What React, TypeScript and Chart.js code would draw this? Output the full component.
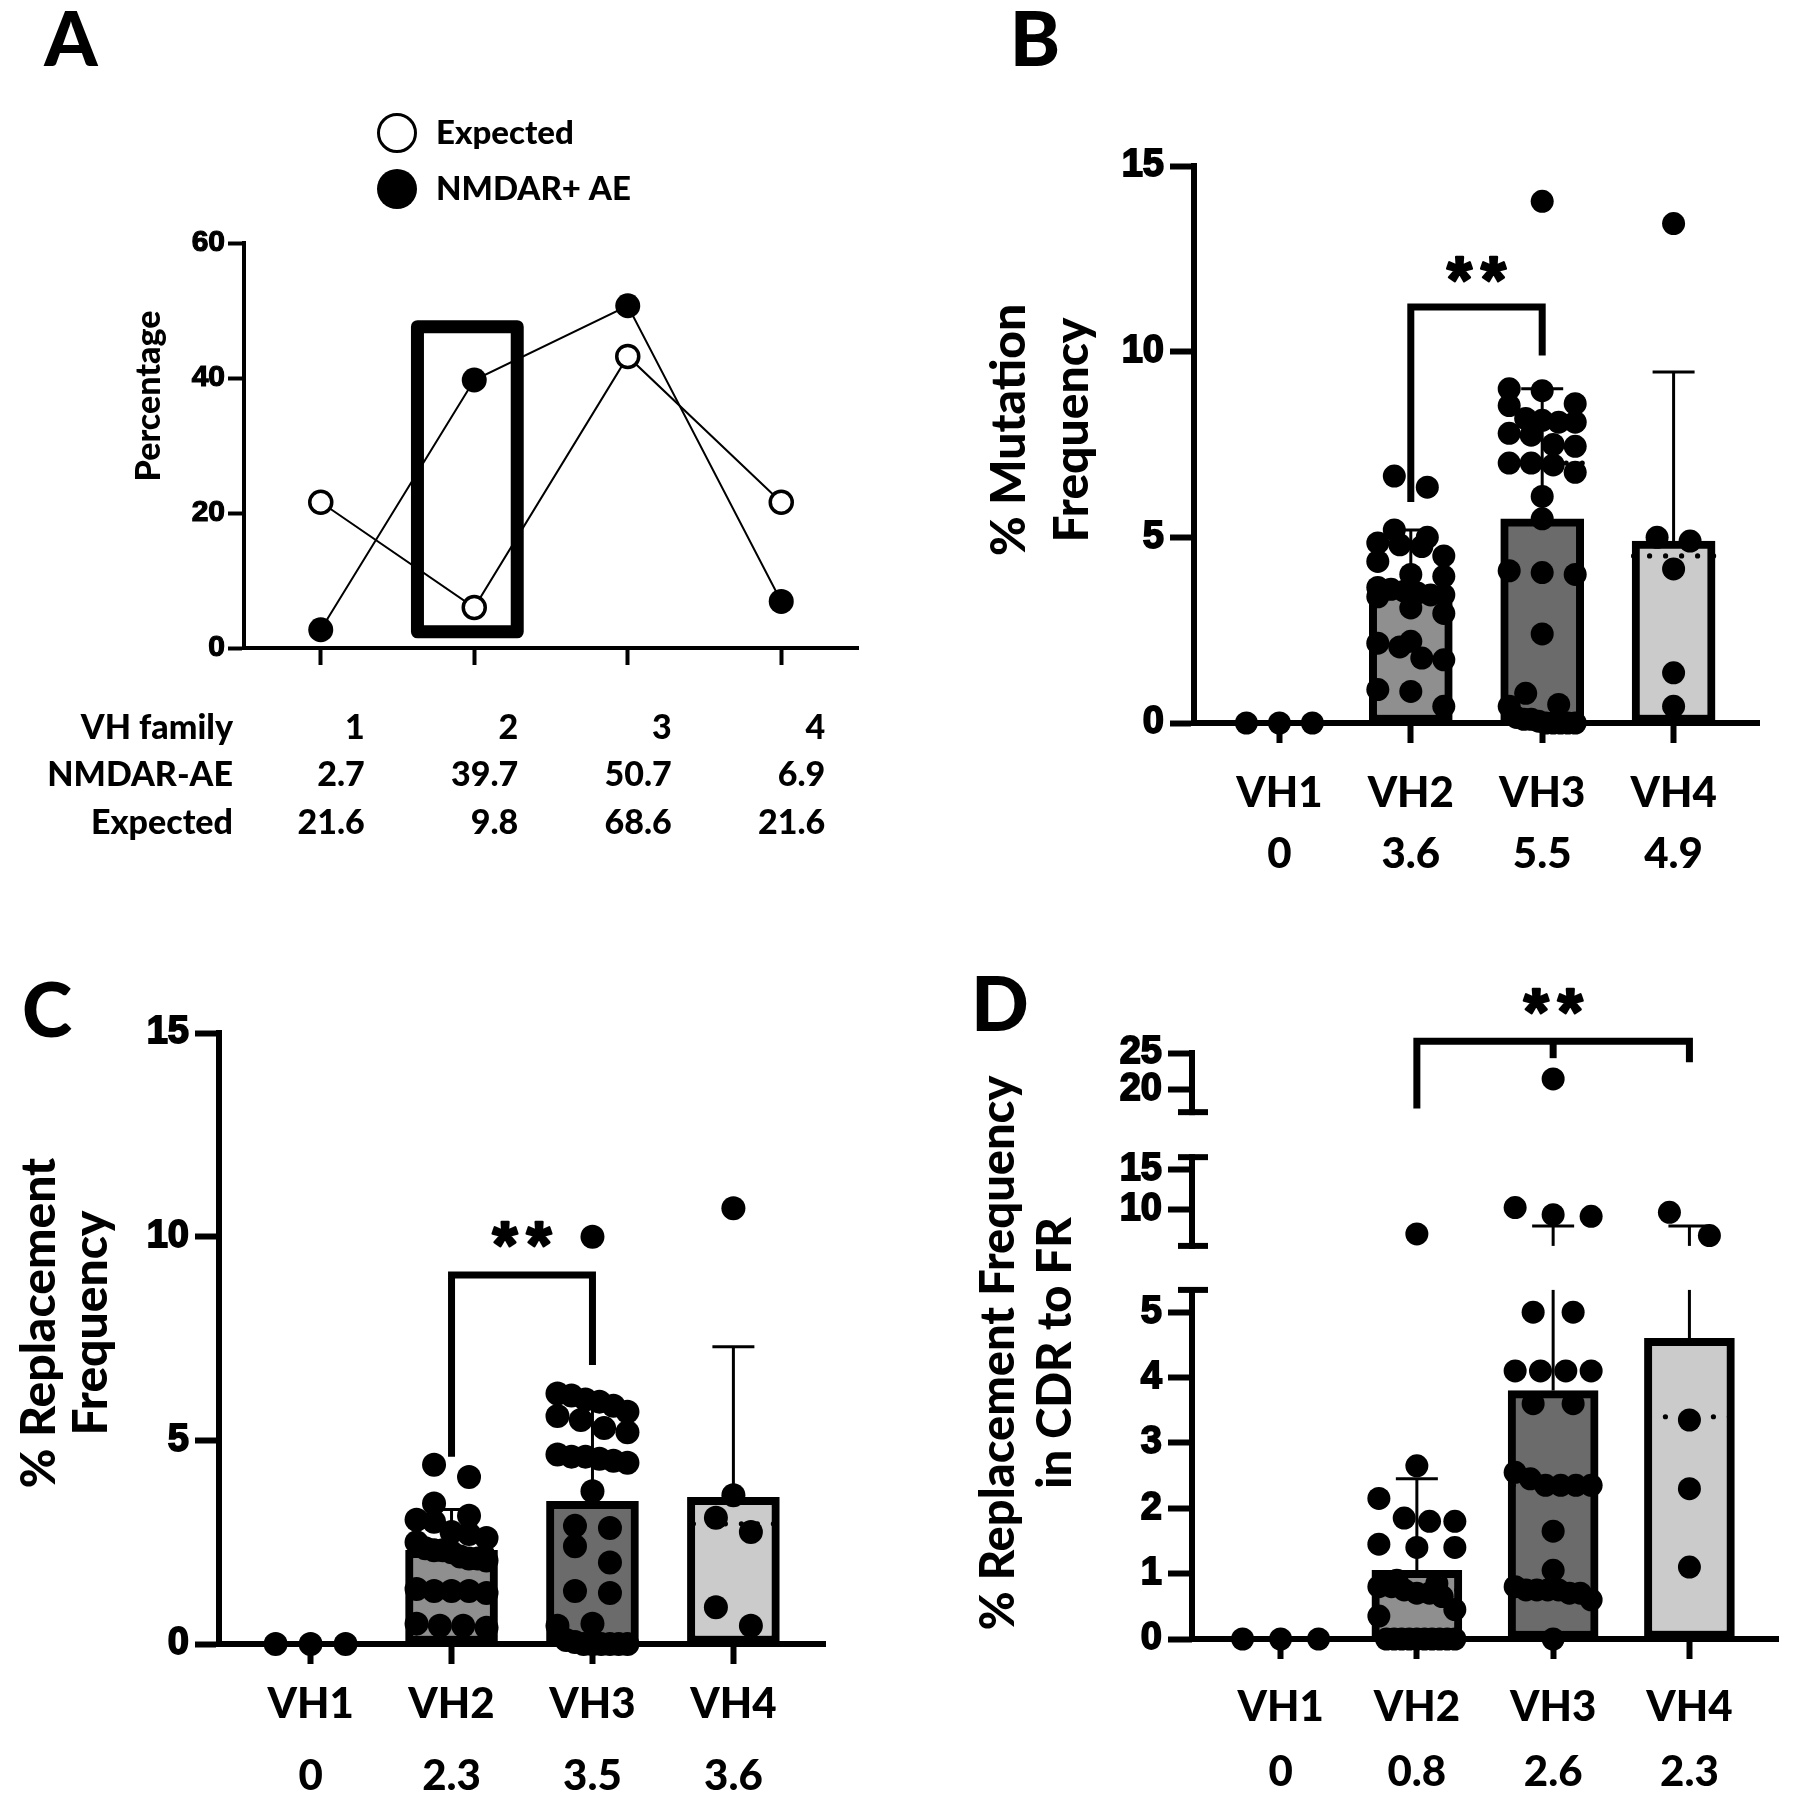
import React, { useEffect, useRef } from 'react';
import { Chart, registerables } from 'chart.js';

Chart.register(...registerables);

const TEXT_FONT = 'Lato, "Open Sans", sans-serif';
const NUM_FONT = '"Liberation Sans", Arial, sans-serif';
const TW = '900';

// ---------------- Panel A data ----------------
const A_FAMILIES = [1, 2, 3, 4];
const A_NMDAR_POINTS = [2.7, 39.7, 50.7, 6.9];
const A_EXPECTED_POINTS = [21.6, 6.0, 43.2, 21.6];
const A_Y_TICKS = [0, 20, 40, 60];
const A_LEGEND = ['Expected', 'NMDAR+ AE'];
const A_ROW_NAMES = ['VH family', 'NMDAR-AE', 'Expected'];
const A_ROW_FAMILY = ['1', '2', '3', '4'];
const A_ROW_NMDAR = ['2.7', '39.7', '50.7', '6.9'];
const A_ROW_EXPECTED = ['21.6', '9.8', '68.6', '21.6'];
const A_HIGHLIGHT = { x0: 1.63, x1: 2.28, y0: 2.4, y1: 47.6 };

// ---------------- Shared ----------------
const GROUPS = ['VH1', 'VH2', 'VH3', 'VH4'];
const BAR_FILLS = ['#ffffff', '#8f8f8f', '#6b6b6b', '#cbcbcb'];

// ---------------- Panel B data ----------------
const B_LABELS = ['0', '3.6', '5.5', '4.9'];
const B_MEANS = [0, 3.6, 5.5, 4.9];
const B_SD_TOP = [0, 5.2, 9.0, 9.45];
const B_MEDIANS = [0, 3.5, 7.0, 4.5];
const B_VH1 = [0, 0, 0];
const B_VH2 = [6.65, 6.35, 5.2, 5.0, 4.85, 4.8, 4.75, 4.5, 4.35, 4.0, 3.95, 3.65, 3.6, 3.55, 3.5, 3.45, 3.45, 3.4, 3.1, 2.95, 2.2, 2.15, 2.05, 1.75, 1.7, 0.9, 0.85, 0.45];
const B_VH3 = [14.05, 9.0, 8.95, 8.6, 8.55, 8.2, 8.15, 8.1, 8.1, 7.8, 7.75, 7.5, 7.45, 7.0, 7.0, 6.95, 6.75, 6.1, 5.5, 4.1, 4.05, 4.0, 2.4, 0.8, 0.5, 0.45, 0.15, 0.1, 0.1, 0.05, 0, 0, 0, 0, 0];
const B_VH4 = [13.45, 5.0, 4.9, 4.15, 1.35, 0.45];
const B_Y_TICKS = [0, 5, 10, 15];
const B_SIG = { from: 1, to: 2, top: 11.2, legFrom: 5.95, legTo: 9.9, stars: 12.2 };

// ---------------- Panel C data ----------------
const C_LABELS = ['0', '2.3', '3.5', '3.6'];
const C_MEANS = [0, 2.3, 3.5, 3.6];
const C_SD_TOP = [0, 3.3, 6.0, 7.3];
const C_MEDIANS = [0, 2.3, 4.55, 2.95];
const C_VH1 = [0, 0, 0];
const C_VH2 = [4.4, 4.1, 3.45, 3.15, 3.05, 3.0, 2.75, 2.7, 2.6, 2.5, 2.35, 2.3, 2.3, 2.25, 2.15, 2.1, 2.1, 2.05, 1.35, 1.3, 1.3, 1.3, 1.25, 0.5, 0.45, 0.45, 0.4];
const C_VH3 = [10.0, 6.15, 6.1, 6.0, 5.95, 5.85, 5.7, 5.6, 5.5, 5.3, 5.2, 4.65, 4.6, 4.6, 4.55, 4.5, 4.45, 3.75, 2.9, 2.85, 2.4, 2.0, 1.3, 1.25, 0.5, 0.45, 0.1, 0.05, 0, 0, 0, 0, 0, 0];
const C_VH4 = [10.7, 3.65, 3.1, 2.75, 0.9, 0.45];
const C_Y_TICKS = [0, 5, 10, 15];
const C_SIG = { from: 1, to: 2, top: 9.06, legFrom: 4.6, legTo: 6.85, stars: 10.05 };

// ---------------- Panel D data ----------------
const D_LABELS = ['0', '0.8', '2.6', '2.3'];
const D_MEANS = [0, 1.05, 3.8, 4.6];
const D_SD_TOP = [0, 2.45, 8.0, 8.0];
const D_MEDIANS = [0, 0.75, 2.35, 3.4];
const D_VH1 = [0, 0, 0];
const D_VH2 = [7.0, 2.65, 2.15, 1.85, 1.8, 1.8, 1.45, 1.4, 1.4, 0.9, 0.85, 0.8, 0.8, 0.75, 0.7, 0.7, 0.65, 0.45, 0.35, 0, 0, 0, 0, 0, 0, 0, 0, 0, 0];
const D_VH3 = [21.5, 10.3, 9.4, 9.2, 5.0, 5.0, 4.1, 4.1, 4.1, 4.1, 3.6, 3.6, 2.55, 2.45, 2.35, 2.35, 2.35, 2.35, 1.65, 1.05, 0.8, 0.75, 0.75, 0.75, 0.75, 0.7, 0.7, 0.6, 0];
const D_VH4 = [9.7, 6.8, 3.35, 2.3, 1.1];
const D_Y_TICKS = [0, 1, 2, 3, 4, 5, 10, 15, 20, 25];
const D_SIG = { from: 1, mid: 2, to: 3, top: 26.6, legFrom: 17.5, legMid: 24.3, legTo: 23.75, stars: 31.9 };
// broken-axis segments (real value range -> virtual axis units)
const D_SEGMENTS = [
  { lo: 0, hi: 5.34, v0: 0, k: 1, capLo: false, capHi: true },
  { lo: 5.5, hi: 16.6, v0: 6.013, k: 0.1223, capLo: true, capHi: true },
  { lo: 17, hi: 25, v0: 8.059, k: 0.1131, capLo: true, capHi: false },
];

function dMap(v: number) {
  for (let i = 0; i < D_SEGMENTS.length; i++) {
    const s = D_SEGMENTS[i];
    if (v <= s.hi || i === D_SEGMENTS.length - 1) {
      const vv = Math.max(v, s.lo);
      return s.v0 + (vv - s.lo) * s.k;
    }
  }
  return v;
}
const ident = (v: number) => v;

// Prism-like row scatter layout computed from the values
function swarm(vals: number[], center: number, p: any) {
  const sorted = vals.map((v) => ({ v, py: p.ymap(v) * p.pxPerUnit })).sort((a, b) => a.py - b.py);
  const rows: any[] = [];
  let cur: any[] = [];
  for (const s of sorted) {
    if (cur.length && s.py - cur[0].py >= p.rowPx) {
      rows.push(cur);
      cur = [];
    }
    cur.push(s);
  }
  if (cur.length) rows.push(cur);
  const out: any[] = [];
  for (const row of rows) {
    const n = row.length;
    const sp = n > 1 ? Math.min(p.spacingPx, p.maxWPx / (n - 1)) : 0;
    [...row].reverse().forEach((s: any, i: number) => {
      out.push({ x: center + ((i - (n - 1) / 2) * sp) / p.pxPerCat, y: p.ymap(s.v) });
    });
  }
  return out;
}

function drawText(ctx: any, text: string, x: number, y: number, font: string, align: string, rot = 0) {
  ctx.save();
  ctx.font = font;
  ctx.fillStyle = '#000';
  ctx.textAlign = align;
  ctx.textBaseline = 'middle';
  ctx.translate(x, y);
  if (rot) ctx.rotate(rot);
  ctx.fillText(text, 0, 0);
  ctx.restore();
}

function drawStars(ctx: any, cx: number, cy: number) {
  ctx.save();
  ctx.font = `bold 64px ${NUM_FONT}`;
  ctx.fillStyle = '#000';
  ctx.strokeStyle = '#000';
  ctx.lineWidth = 2.5;
  ctx.lineJoin = 'round';
  ctx.textAlign = 'center';
  ctx.textBaseline = 'alphabetic';
  const m = ctx.measureText('*');
  const asc = m.actualBoundingBoxAscent || 40;
  const desc = m.actualBoundingBoxDescent || -20;
  const by = cy + (asc - desc) / 2;
  [cx - 17, cx + 17].forEach((sx) => {
    ctx.fillText('*', sx, by);
    ctx.strokeText('*', sx, by);
  });
  ctx.restore();
}

// ---------------- Panel A ----------------
function makeA() {
  const plugin = {
    id: 'panelA',
    afterDatasetsDraw(chart: any) {
      const { ctx, scales } = chart;
      const x = scales.x, y = scales.y;
      const l = x.getPixelForValue(A_HIGHLIGHT.x0), r = x.getPixelForValue(A_HIGHLIGHT.x1);
      const t = y.getPixelForValue(A_HIGHLIGHT.y1), b = y.getPixelForValue(A_HIGHLIGHT.y0);
      ctx.save();
      ctx.strokeStyle = '#000';
      ctx.lineWidth = 13;
      ctx.lineJoin = 'round';
      ctx.beginPath();
      ctx.rect(l, t, r - l, b - t);
      ctx.stroke();
      ctx.restore();
    },
    afterDraw(chart: any) {
      const { ctx, scales } = chart;
      const x = scales.x;
      drawText(ctx, 'A', 71, 41, `${TW} 76px ${TEXT_FONT}`, 'center');
      // legend
      ctx.save();
      ctx.strokeStyle = '#000';
      ctx.fillStyle = '#fff';
      ctx.lineWidth = 3;
      ctx.beginPath();
      ctx.arc(397, 133, 18.5, 0, Math.PI * 2);
      ctx.fill();
      ctx.stroke();
      ctx.fillStyle = '#000';
      ctx.beginPath();
      ctx.arc(397, 189, 20, 0, Math.PI * 2);
      ctx.fill();
      ctx.restore();
      drawText(ctx, A_LEGEND[0], 436, 133, `${TW} 33px ${TEXT_FONT}`, 'left');
      drawText(ctx, A_LEGEND[1], 436, 189, `${TW} 33px ${TEXT_FONT}`, 'left');
      // y title
      drawText(ctx, 'Percentage', 149, 396, `${TW} 34px ${TEXT_FONT}`, 'center', -Math.PI / 2);
      // table
      const rowsY = [728, 775, 823];
      const rows = [A_ROW_FAMILY, A_ROW_NMDAR, A_ROW_EXPECTED];
      rows.forEach((vals, ri) => {
        drawText(ctx, A_ROW_NAMES[ri], 233, rowsY[ri], `${TW} 34px ${TEXT_FONT}`, 'right');
        vals.forEach((v, ci) => {
          drawText(ctx, v, x.getPixelForValue(A_FAMILIES[ci]) + 44, rowsY[ri], `${TW} 34px ${TEXT_FONT}`, 'right');
        });
      });
    },
  };
  return {
    type: 'line',
    data: {
      datasets: [
        {
          label: A_LEGEND[1],
          data: A_FAMILIES.map((f, i) => ({ x: f, y: A_NMDAR_POINTS[i] })),
          borderColor: '#000',
          borderWidth: 2,
          pointRadius: 12.5,
          pointBackgroundColor: '#000',
          pointBorderWidth: 0,
          fill: false,
          clip: false,
        },
        {
          label: A_LEGEND[0],
          data: A_FAMILIES.map((f, i) => ({ x: f, y: A_EXPECTED_POINTS[i] })),
          borderColor: '#000',
          borderWidth: 2,
          pointRadius: 11,
          pointBackgroundColor: '#fff',
          pointBorderColor: '#000',
          pointBorderWidth: 3.5,
          fill: false,
          clip: false,
        },
      ],
    },
    options: {
      animation: false,
      responsive: false,
      devicePixelRatio: 1,
      events: [],
      layout: { padding: { left: 0, top: 243, right: 38, bottom: 0 }, autoPadding: false },
      plugins: { legend: { display: false }, tooltip: { enabled: false } },
      scales: {
        x: {
          type: 'linear',
          min: 0.5,
          max: 4.5,
          offset: false,
          afterBuildTicks: (s: any) => {
            s.ticks = A_FAMILIES.map((v) => ({ value: v }));
          },
          ticks: { display: false },
          grid: { display: true, drawOnChartArea: false, drawTicks: true, tickLength: 17, tickWidth: 4, tickColor: '#000', offset: false },
          border: { display: true, width: 4, color: '#000' },
          afterFit: (s: any) => {
            s.height = 232;
          },
        },
        y: {
          type: 'linear',
          min: 0,
          max: 60,
          afterBuildTicks: (s: any) => {
            s.ticks = A_Y_TICKS.map((v) => ({ value: v }));
          },
          ticks: {
            font: { family: NUM_FONT, size: 30, weight: 'bold' },
            color: '#000',
            padding: 3,
            textStrokeColor: '#000',
            textStrokeWidth: 1.2,
          },
          grid: { display: true, drawOnChartArea: false, drawTicks: true, tickLength: 16, tickWidth: 4, tickColor: '#000' },
          border: { display: true, width: 4, color: '#000' },
          afterFit: (s: any) => {
            s.width = 244;
          },
        },
      },
    },
    plugins: [plugin],
  };
}

// ---------------- Bar panels B, C, D ----------------
function makeBarPanel(p: any) {
  const points: any[] = [];
  p.groups.forEach((vals: number[], gi: number) => swarm(vals, gi, p).forEach((pt: any) => points.push(pt)));
  const barIdx = [1, 2, 3];

  const plugin = {
    id: 'panel' + p.letter,
    beforeDatasetsDraw(chart: any) {
      if (!p.segments) return;
      const { ctx, chartArea, scales } = chart;
      const y = scales.y;
      const ax = chartArea.left;
      ctx.save();
      ctx.strokeStyle = '#000';
      ctx.lineWidth = 6;
      p.segments.forEach((s: any, i: number) => {
        const y0 = y.getPixelForValue(p.ymap(s.lo));
        const y1 = y.getPixelForValue(p.ymap(s.hi));
        ctx.beginPath();
        ctx.moveTo(ax, i === 0 ? y0 + 3 : y0 + (s.capLo ? 3 : 0));
        ctx.lineTo(ax, y1 - 3);
        ctx.stroke();
        if (s.capLo) {
          ctx.beginPath();
          ctx.moveTo(ax - 14, y0);
          ctx.lineTo(ax + 16, y0);
          ctx.stroke();
        }
        if (s.capHi) {
          ctx.beginPath();
          ctx.moveTo(ax - 14, y1);
          ctx.lineTo(ax + 16, y1);
          ctx.stroke();
        }
      });
      ctx.restore();
    },
    afterDatasetDraw(chart: any, args: any) {
      if (args.index !== 0) return;
      const { ctx, scales } = chart;
      const x = scales.x, y = scales.y;
      ctx.save();
      // medians (dotted)
      ctx.fillStyle = '#000';
      barIdx.forEach((gi) => {
        const m = p.medians[gi];
        if (!m) return;
        const py = y.getPixelForValue(p.ymap(m));
        const px = x.getPixelForValue(gi);
        [-40, -24, -8, 8, 24, 40].forEach((dx) => {
          ctx.beginPath();
          ctx.arc(px + dx, py, 2.6, 0, Math.PI * 2);
          ctx.fill();
        });
      });
      // error bars (upper SD)
      ctx.strokeStyle = '#000';
      ctx.lineWidth = 3;
      const segs = p.segments || [{ lo: -1e9, hi: 1e9 }];
      barIdx.forEach((gi) => {
        const top = p.sdTop[gi];
        if (!top) return;
        const px = x.getPixelForValue(gi);
        const lo = p.means[gi];
        segs.forEach((s: any) => {
          const a = Math.max(lo, s.lo), b = Math.min(top, s.hi);
          if (b <= a) return;
          ctx.beginPath();
          ctx.moveTo(px, y.getPixelForValue(p.ymap(a)));
          ctx.lineTo(px, y.getPixelForValue(p.ymap(b)));
          ctx.stroke();
        });
        const cy = y.getPixelForValue(p.ymap(top));
        ctx.beginPath();
        ctx.moveTo(px - 21, cy);
        ctx.lineTo(px + 21, cy);
        ctx.stroke();
      });
      ctx.restore();
    },
    afterDraw(chart: any) {
      const { ctx, scales } = chart;
      const x = scales.x, y = scales.y;
      const X = (v: number) => x.getPixelForValue(v);
      const Y = (v: number) => y.getPixelForValue(p.ymap(v));
      const s = p.sig;
      ctx.save();
      ctx.strokeStyle = '#000';
      ctx.lineWidth = 7;
      ctx.lineJoin = 'miter';
      ctx.lineCap = 'butt';
      ctx.beginPath();
      ctx.moveTo(X(s.from), Y(s.legFrom));
      ctx.lineTo(X(s.from), Y(s.top));
      ctx.lineTo(X(s.to), Y(s.top));
      ctx.lineTo(X(s.to), Y(s.legTo));
      ctx.stroke();
      if (s.mid !== undefined) {
        ctx.beginPath();
        ctx.moveTo(X(s.mid), Y(s.top));
        ctx.lineTo(X(s.mid), Y(s.legMid));
        ctx.stroke();
      }
      ctx.restore();
      const sx = s.mid !== undefined ? X(s.mid) : (X(s.from) + X(s.to)) / 2;
      drawStars(ctx, sx, Y(s.stars));
      drawText(ctx, p.letter, p.letterPos[0], p.letterPos[1], `${TW} 76px ${TEXT_FONT}`, 'center');
      p.title.forEach((line: string, i: number) => {
        drawText(ctx, line, p.titleX[i], p.titleY, `${TW} ${p.titleSize}px ${TEXT_FONT}`, 'center', -Math.PI / 2);
      });
    },
  };

  return {
    type: 'scatter',
    data: {
      datasets: [
        {
          type: 'bar',
          data: barIdx.map((i) => ({ x: i, y: p.ymap(p.means[i]) })),
          backgroundColor: barIdx.map((i) => BAR_FILLS[i]),
          borderColor: '#000',
          borderWidth: 8,
          borderSkipped: false,
          barThickness: p.barThickness,
          order: 3,
        },
        {
          type: 'scatter',
          data: points,
          pointRadius: p.dotR,
          pointBackgroundColor: '#000',
          pointBorderWidth: 0,
          order: 1,
          clip: false,
        },
      ],
    },
    options: {
      animation: false,
      responsive: false,
      devicePixelRatio: 1,
      events: [],
      layout: { padding: { left: 0, top: p.top, right: p.right, bottom: 0 }, autoPadding: false },
      plugins: { legend: { display: false }, tooltip: { enabled: false } },
      scales: {
        x: {
          type: 'linear',
          min: -0.65,
          max: 3.65,
          offset: false,
          afterBuildTicks: (s: any) => {
            s.ticks = [0, 1, 2, 3].map((v) => ({ value: v }));
          },
          ticks: {
            callback: (v: number) => [GROUPS[v], p.labels[v]],
            font: { family: TEXT_FONT, size: p.xFont, weight: TW, lineHeight: p.xLineHeight / p.xFont },
            color: '#000',
            padding: p.xPad,
            maxRotation: 0,
            autoSkip: false,
          },
          grid: { display: true, drawOnChartArea: false, drawTicks: true, tickLength: 20, tickWidth: 6, tickColor: '#000', offset: false },
          border: { display: true, width: 6, color: '#000' },
          afterFit: (s: any) => {
            s.height = p.xHeight;
          },
        },
        y: {
          type: 'linear',
          min: 0,
          max: p.ymap(p.yTicks[p.yTicks.length - 1]),
          afterBuildTicks: (s: any) => {
            s.ticks = p.yTicks.map((v: number) => ({ value: p.ymap(v) }));
          },
          ticks: {
            callback: (_v: number, i: number) => String(p.yTicks[i]),
            font: { family: NUM_FONT, size: 38, weight: 'bold' },
            color: '#000',
            padding: 6,
            autoSkip: false,
            textStrokeColor: '#000',
            textStrokeWidth: 1.8,
          },
          grid: { display: true, drawOnChartArea: false, drawTicks: true, tickLength: 24, tickWidth: 6, tickColor: '#000' },
          border: { display: !p.segments, width: 6, color: '#000' },
          afterFit: (s: any) => {
            s.width = p.yWidth;
          },
        },
      },
    },
    plugins: [plugin],
  };
}

const PANEL_B = {
  letter: 'B', letterPos: [1035 - 896, 41],
  title: ['% Mutation', 'Frequency'], titleX: [114, 177], titleY: 430, titleSize: 48,
  groups: [B_VH1, B_VH2, B_VH3, B_VH4], means: B_MEANS, sdTop: B_SD_TOP, medians: B_MEDIANS, labels: B_LABELS,
  yTicks: B_Y_TICKS, ymap: ident, sig: B_SIG,
  top: 166, right: 34, yWidth: 298, xHeight: 157,
  pxPerUnit: 37.13, pxPerCat: 131.4, rowPx: 18, spacingPx: 33, maxWPx: 66,
  barThickness: 83, dotR: 11.5, xFont: 42, xLineHeight: 61, xPad: 20,
};
const PANEL_C = {
  letter: 'C', letterPos: [47, 132],
  title: ['% Replacement', 'Frequency'], titleX: [40, 92], titleY: 443, titleSize: 48,
  groups: [C_VH1, C_VH2, C_VH3, C_VH4], means: C_MEANS, sdTop: C_SD_TOP, medians: C_MEDIANS, labels: C_LABELS,
  yTicks: C_Y_TICKS, ymap: ident, sig: C_SIG,
  top: 153, right: 71, yWidth: 219, xHeight: 156,
  pxPerUnit: 40.73, pxPerCat: 141, rowPx: 19, spacingPx: 35, maxWPx: 70,
  barThickness: 92, dotR: 12, xFont: 42, xLineHeight: 72, xPad: 4,
};
const PANEL_D = {
  letter: 'D', letterPos: [104, 126],
  title: ['% Replacement Frequency', 'in CDR to FR'], titleX: [103, 160], titleY: 473, titleSize: 47,
  groups: [D_VH1, D_VH2, D_VH3, D_VH4], means: D_MEANS, sdTop: D_SD_TOP, medians: D_MEDIANS, labels: D_LABELS,
  yTicks: D_Y_TICKS, ymap: dMap, sig: D_SIG, segments: D_SEGMENTS,
  top: 173, right: 15, yWidth: 296, xHeight: 161,
  pxPerUnit: 65.4, pxPerCat: 136.3, rowPx: 24, spacingPx: 40, maxWPx: 76,
  barThickness: 90, dotR: 11.5, xFont: 42, xLineHeight: 65, xPad: 16,
};

function PanelCanvas({ left, top, width, height, make }: any) {
  const ref = useRef<HTMLCanvasElement>(null);
  useEffect(() => {
    const chart = new Chart(ref.current as any, make() as any);
    return () => chart.destroy();
  }, []);
  return (
    <canvas
      ref={ref}
      width={width}
      height={height}
      style={{ position: 'absolute', left, top, width, height, display: 'block' }}
    />
  );
}

export default function App() {
  return (
    <div style={{ position: 'absolute', left: 0, top: 0, width: 1793, height: 1800, background: '#fff', overflow: 'hidden' }}>
      <PanelCanvas left={0} top={0} width={896} height={880} make={makeA} />
      <PanelCanvas left={896} top={0} width={897} height={880} make={() => makeBarPanel(PANEL_B)} />
      <PanelCanvas left={0} top={880} width={896} height={920} make={() => makeBarPanel(PANEL_C)} />
      <PanelCanvas left={896} top={880} width={897} height={920} make={() => makeBarPanel(PANEL_D)} />
    </div>
  );
}
